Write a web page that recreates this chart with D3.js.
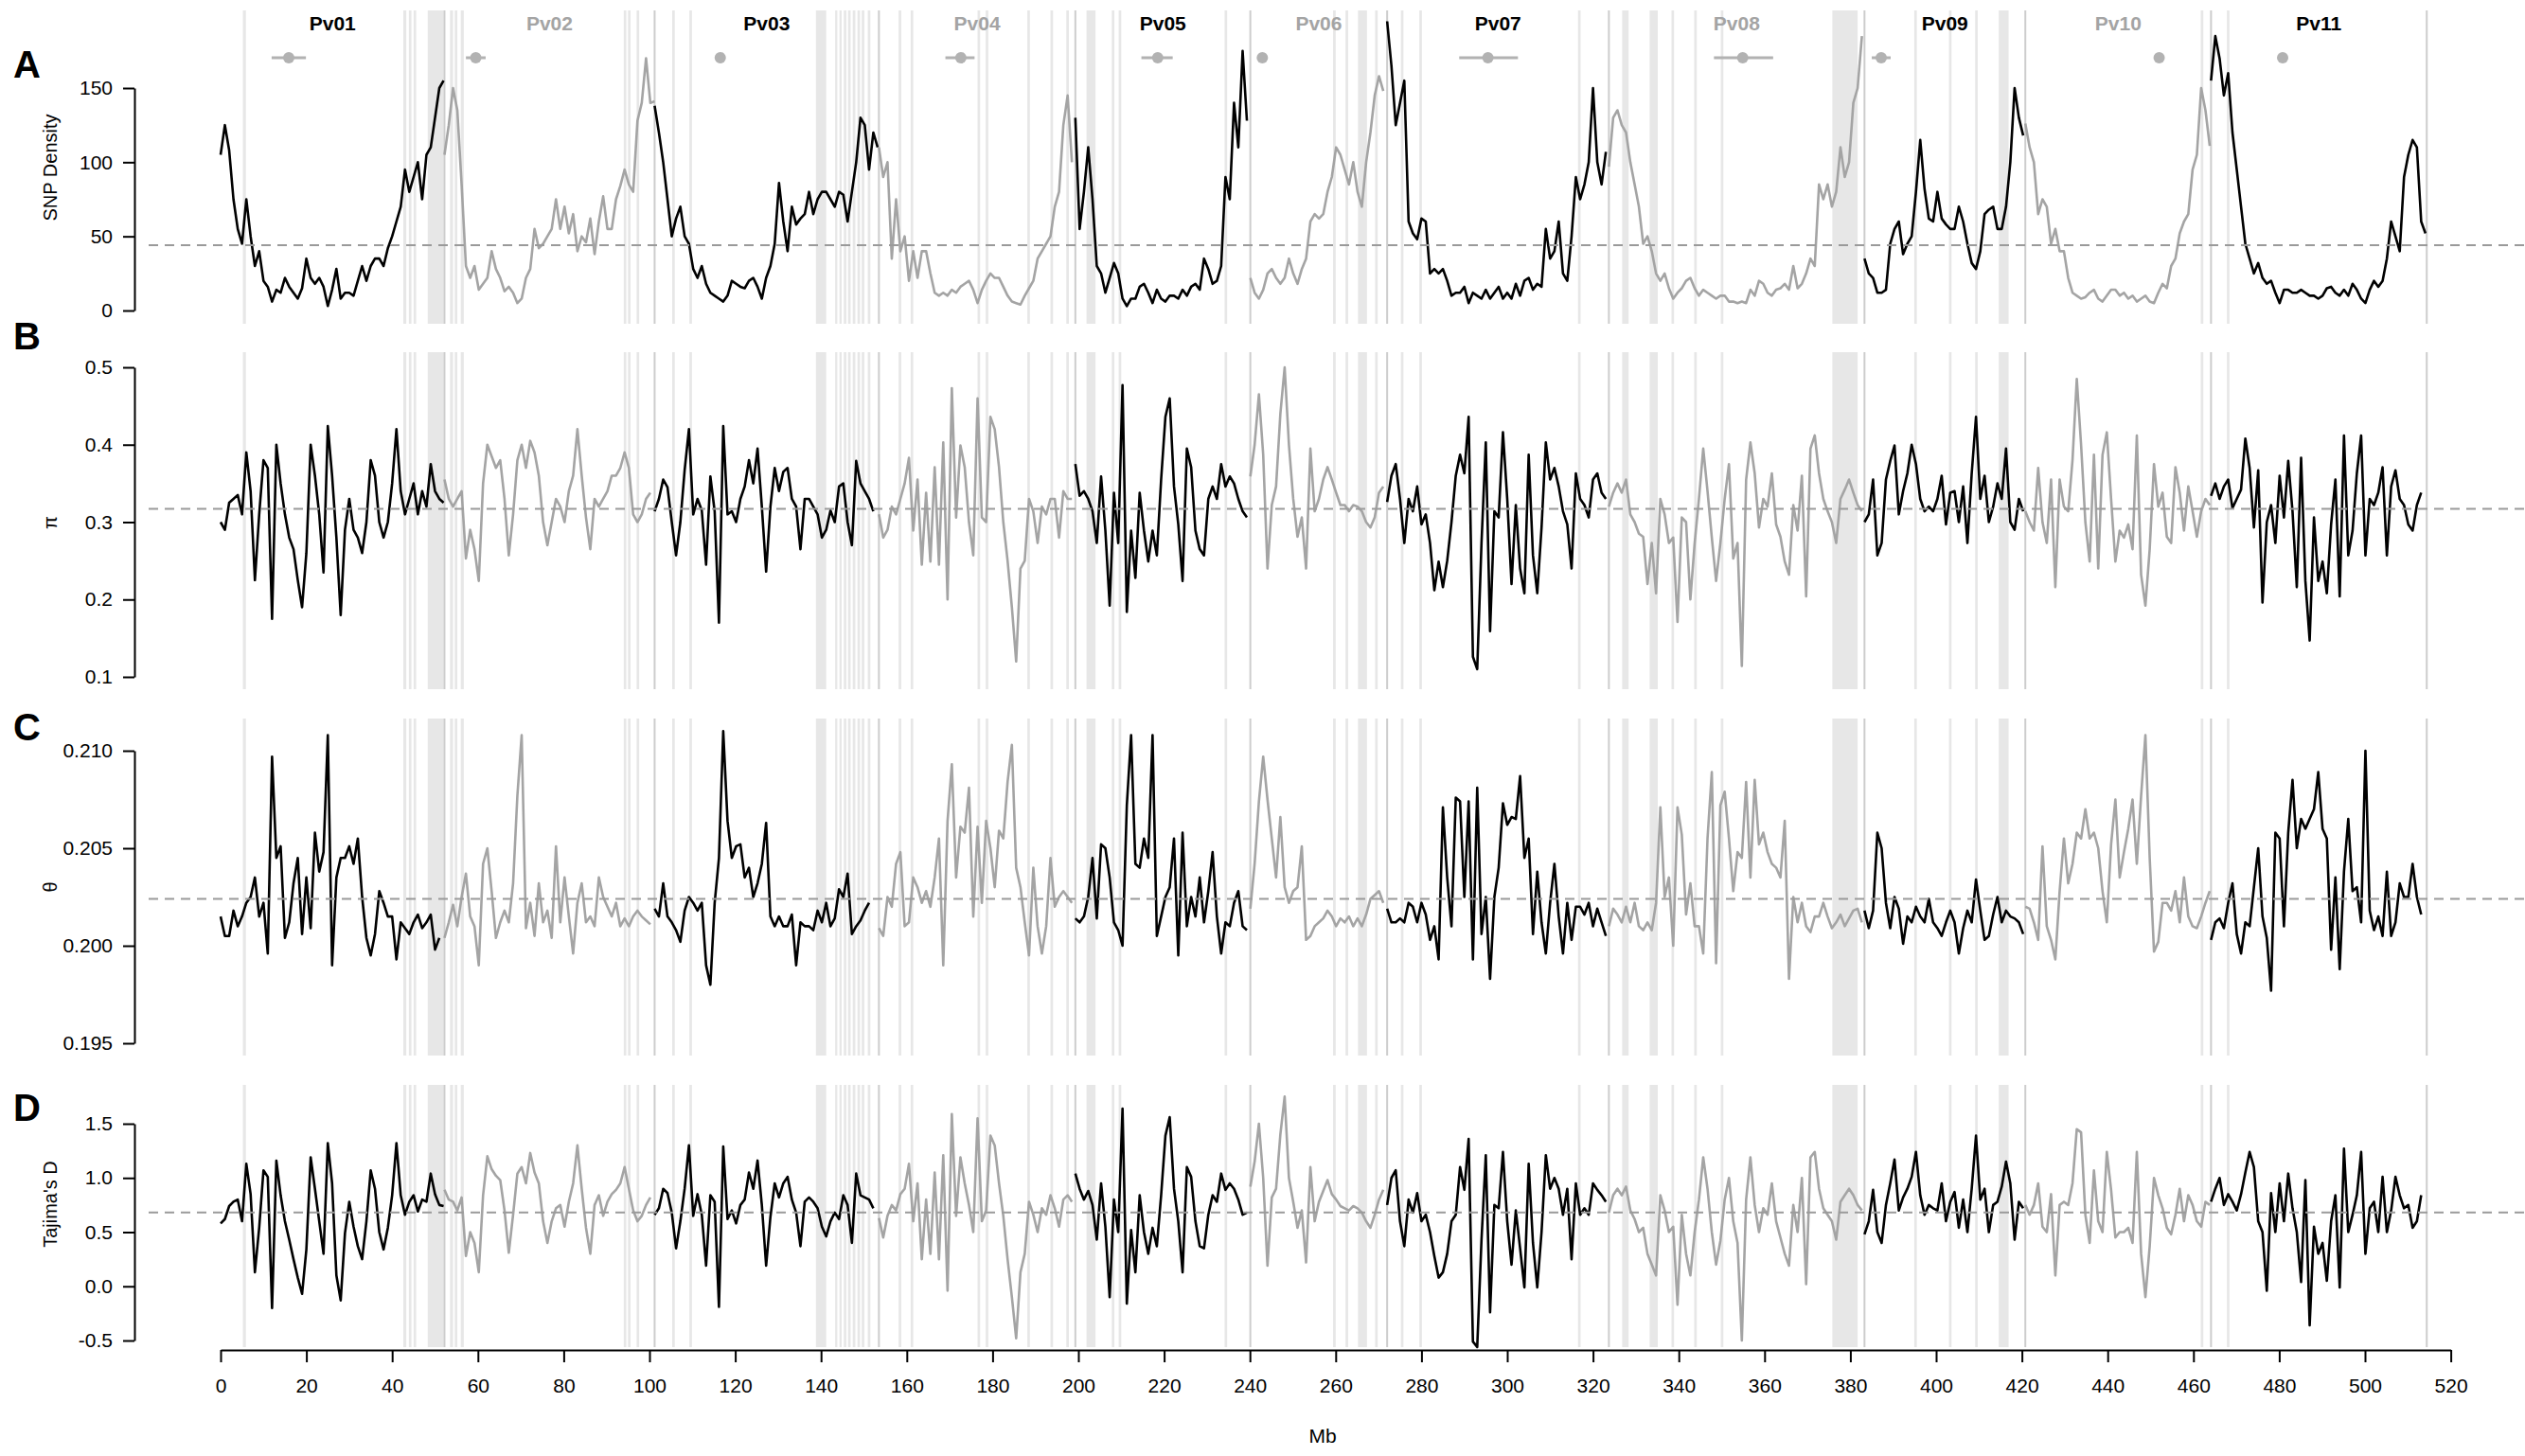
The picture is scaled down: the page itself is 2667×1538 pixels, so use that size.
<!DOCTYPE html>
<html>
<head>
<meta charset="utf-8">
<script src="https://cdn.jsdelivr.net/npm/d3@7/dist/d3.min.js"></script>
<style>
  body { margin: 0; background: #fff; }
  text { font-family: "Liberation Sans", Arial, Helvetica, sans-serif; }
</style>
</head>
<body>
<svg id="vis"></svg>
<script>
// chromosomes (Mb)
const chromNames = ["Pv01", "Pv02", "Pv03", "Pv04", "Pv05", "Pv06", "Pv07", "Pv08", "Pv09", "Pv10", "Pv11"];
const chromLengths = [52.2, 49.0, 52.3, 45.8, 40.8, 31.9, 51.7, 59.6, 37.5, 43.3, 50.3];

// centromere position and interval (cumulative Mb)
const centroPos = [15.9, 59.5, 116.5, 172.6, 218.5, 242.9, 295.5, 354.9, 387.2, 452.0, 480.8];
const centroLo = [11.9, 57.2, null, 169.0, 214.7, null, 288.8, 348.2, 385.0, null, null];
const centroHi = [19.9, 61.8, null, 175.8, 222.0, null, 302.5, 362.0, 389.4, null, null];

// shaded regions (cumulative Mb)
const bands = [
  [5.2, 5.9], [42.6, 43.3], [43.9, 44.5], [45.0, 45.6], [48.3, 52.0], [53.5, 54.2], [54.6, 55.2], [56.0, 56.7],
  [94.0, 94.6], [95.0, 95.6], [97.0, 97.6], [105.3, 105.9], [109.3, 109.9],
  [138.8, 141.2], [143.3, 143.8], [144.3, 144.8], [145.3, 145.9], [146.3, 146.9], [147.4, 148.0], [148.5, 149.1],
  [149.5, 150.1], [150.9, 151.5],
  [158.1, 158.7], [160.9, 161.5], [176.5, 177.1], [178.4, 179.0], [188.1, 188.7], [193.5, 194.1], [197.2, 197.8],
  [201.9, 204.0], [207.8, 208.4], [209.4, 210.0], [234.1, 234.7],
  [259.4, 260.0], [262.3, 262.9], [265.2, 267.3], [269.2, 269.8], [275.2, 275.8], [279.5, 280.1], [316.5, 317.1],
  [326.8, 328.3], [333.2, 335.1], [338.3, 338.9], [343.6, 344.2], [349.8, 350.4], [375.8, 381.7],
  [394.9, 395.5], [403.0, 403.6], [409.1, 409.7], [414.6, 416.9], [461.7, 462.3], [467.8, 468.4]
];

// A: SNP density, one value per Mb from each chromosome start
const snpDensity = [
  [105,125,108,75,55,45,75,50,30,40,20,16,6,14,12,22,16,12,8,15,35,22,18,22,16,3,14,28,8,12,12,10,20,30,20,30,35,35,30,42,50,60,70,95,80,90,100,75,105,110,130,150,155],
  [105,125,150,135,85,30,22,30,14,18,22,40,28,22,13,16,12,5,8,22,28,55,42,45,50,55,75,55,70,52,65,40,50,46,62,38,60,77,55,55,75,84,95,85,80,128,140,170,140,141],
  [138,120,100,75,50,62,70,50,45,28,22,30,18,12,10,8,6,10,20,18,16,15,20,22,16,8,22,30,45,86,60,40,70,58,62,65,80,65,75,80,80,75,70,80,78,60,80,100,130,125,95,120,110],
  [110,90,100,35,75,40,50,20,40,22,40,40,25,12,10,12,10,14,12,16,18,20,14,5,14,20,25,22,22,16,10,6,5,4,10,15,20,35,40,45,50,70,80,125,145,100],
  [130,55,80,110,75,30,25,12,22,32,25,8,3,8,8,16,18,12,5,14,8,6,10,10,8,14,10,16,18,14,35,28,18,20,30,90,75,140,110,175,128],
  [22,12,8,14,25,28,22,18,22,35,25,18,28,35,60,65,62,65,80,90,110,105,95,85,100,80,70,100,120,145,158,148],
  [195,165,125,140,155,60,52,48,62,60,25,28,25,28,20,10,12,12,16,5,12,10,8,14,8,12,16,8,12,8,18,10,20,22,14,18,16,55,35,40,60,25,20,50,90,75,85,100,150,100,85,107],
  [97,130,135,125,120,100,85,70,45,50,40,25,20,25,15,8,12,15,20,22,15,10,14,12,10,8,10,10,6,6,5,6,5,14,10,20,18,12,10,14,15,18,14,30,15,18,25,35,30,85,75,85,70,80,110,90,100,140,150,185],
  [35,25,22,12,12,14,45,55,60,38,45,50,80,115,82,62,60,80,62,58,55,55,70,60,45,32,28,40,65,68,70,55,55,70,100,150,130,118],
  [126,110,100,65,75,70,45,55,40,40,22,12,10,8,9,12,14,8,6,10,14,14,10,12,8,10,6,8,10,6,5,12,18,15,30,35,52,60,65,95,105,150,135,111],
  [155,185,170,145,160,120,95,70,45,35,25,32,22,18,20,12,5,14,14,12,12,14,12,10,10,8,10,15,16,12,10,14,10,18,14,8,5,14,20,16,20,35,60,50,40,90,105,115,110,60,52]
];

// B: nucleotide diversity
const piValues = [
  [0.30,0.29,0.325,0.33,0.335,0.31,0.39,0.34,0.225,0.31,0.38,0.37,0.175,0.40,0.35,0.31,0.28,0.265,0.225,0.19,0.26,0.40,0.36,0.31,0.235,0.424,0.36,0.28,0.18,0.29,0.33,0.29,0.28,0.26,0.30,0.38,0.36,0.30,0.28,0.30,0.35,0.42,0.34,0.31,0.33,0.35,0.31,0.34,0.32,0.375,0.34,0.33,0.325],
  [0.355,0.33,0.32,0.33,0.34,0.253,0.29,0.265,0.224,0.35,0.40,0.385,0.37,0.38,0.33,0.257,0.31,0.38,0.40,0.37,0.405,0.39,0.36,0.30,0.27,0.30,0.33,0.32,0.30,0.34,0.36,0.42,0.36,0.306,0.265,0.33,0.32,0.33,0.34,0.36,0.36,0.37,0.39,0.37,0.31,0.30,0.31,0.33,0.338],
  [0.314,0.33,0.355,0.345,0.30,0.257,0.30,0.367,0.42,0.31,0.33,0.315,0.245,0.359,0.314,0.17,0.424,0.31,0.314,0.30,0.33,0.346,0.38,0.35,0.395,0.32,0.236,0.32,0.37,0.34,0.365,0.37,0.33,0.32,0.265,0.33,0.33,0.32,0.31,0.28,0.29,0.315,0.30,0.346,0.35,0.30,0.27,0.379,0.35,0.34,0.33,0.314],
  [0.31,0.28,0.29,0.32,0.31,0.33,0.35,0.383,0.289,0.355,0.245,0.338,0.249,0.371,0.245,0.403,0.2,0.473,0.306,0.399,0.371,0.30,0.257,0.46,0.306,0.30,0.436,0.42,0.371,0.30,0.25,0.19,0.12,0.24,0.25,0.33,0.314,0.273,0.32,0.31,0.33,0.33,0.28,0.34,0.33,0.33],
  [0.375,0.334,0.34,0.33,0.314,0.273,0.359,0.289,0.192,0.338,0.273,0.477,0.184,0.289,0.228,0.338,0.289,0.249,0.289,0.257,0.355,0.436,0.46,0.346,0.297,0.224,0.395,0.371,0.289,0.265,0.257,0.33,0.346,0.33,0.375,0.346,0.359,0.35,0.33,0.314,0.306],
  [0.359,0.40,0.465,0.387,0.24,0.322,0.346,0.44,0.50,0.40,0.33,0.281,0.306,0.24,0.395,0.314,0.33,0.355,0.371,0.355,0.338,0.322,0.322,0.314,0.322,0.32,0.314,0.30,0.293,0.306,0.338,0.346],
  [0.326,0.36,0.375,0.33,0.273,0.33,0.314,0.346,0.297,0.31,0.273,0.212,0.249,0.216,0.25,0.30,0.36,0.387,0.363,0.436,0.126,0.11,0.273,0.403,0.159,0.314,0.306,0.416,0.33,0.22,0.322,0.24,0.208,0.387,0.257,0.208,0.293,0.403,0.355,0.37,0.346,0.314,0.297,0.24,0.363,0.33,0.322,0.306,0.355,0.363,0.338,0.33],
  [0.32,0.338,0.35,0.338,0.355,0.31,0.30,0.285,0.281,0.22,0.273,0.208,0.33,0.31,0.273,0.28,0.171,0.306,0.30,0.2,0.273,0.33,0.395,0.34,0.28,0.224,0.273,0.33,0.375,0.253,0.273,0.114,0.355,0.403,0.363,0.293,0.33,0.32,0.363,0.297,0.281,0.249,0.232,0.322,0.289,0.36,0.204,0.395,0.412,0.363,0.33,0.314,0.30,0.273,0.33,0.342,0.355,0.338,0.322,0.314],
  [0.30,0.31,0.355,0.257,0.273,0.355,0.379,0.399,0.31,0.34,0.363,0.40,0.375,0.33,0.314,0.32,0.314,0.33,0.36,0.297,0.338,0.34,0.30,0.346,0.273,0.363,0.436,0.33,0.36,0.30,0.32,0.35,0.33,0.395,0.30,0.29,0.33,0.314],
  [0.314,0.30,0.289,0.37,0.30,0.273,0.355,0.216,0.355,0.32,0.314,0.38,0.485,0.40,0.30,0.249,0.387,0.24,0.387,0.416,0.33,0.249,0.289,0.28,0.297,0.265,0.412,0.232,0.192,0.265,0.375,0.32,0.338,0.281,0.273,0.371,0.338,0.289,0.346,0.314,0.281,0.314,0.33,0.322],
  [0.334,0.35,0.33,0.346,0.355,0.318,0.33,0.342,0.408,0.37,0.293,0.367,0.196,0.30,0.322,0.273,0.36,0.306,0.379,0.314,0.216,0.383,0.224,0.147,0.306,0.224,0.249,0.208,0.297,0.355,0.204,0.412,0.257,0.289,0.363,0.412,0.257,0.33,0.322,0.338,0.371,0.257,0.346,0.367,0.33,0.322,0.297,0.289,0.322,0.338]
];

// C: Watterson's theta
const thetaValues = [
  [0.2015,0.2005,0.2005,0.2018,0.2010,0.2015,0.2022,0.2025,0.2035,0.2015,0.2022,0.1996,0.2097,0.2045,0.2051,0.2004,0.2012,0.2032,0.2045,0.2006,0.2035,0.2009,0.2058,0.2038,0.2048,0.2108,0.1990,0.2035,0.2045,0.2045,0.2051,0.2042,0.2055,0.2025,0.2004,0.1995,0.2006,0.2028,0.2022,0.2015,0.2015,0.1993,0.2012,0.2009,0.2006,0.2012,0.2016,0.2009,0.2012,0.2016,0.1998,0.2004],
  [0.2004,0.2012,0.2021,0.2010,0.2025,0.2037,0.2015,0.2010,0.1990,0.2042,0.2050,0.2028,0.2004,0.2012,0.2018,0.2012,0.2032,0.2077,0.2108,0.2009,0.2022,0.2005,0.2032,0.2012,0.2018,0.2004,0.2051,0.2012,0.2035,0.2015,0.1996,0.2022,0.2032,0.2012,0.2015,0.2010,0.2035,0.2025,0.2020,0.2015,0.2022,0.2010,0.2014,0.2010,0.2015,0.2018,0.2015,0.2013,0.2011],
  [0.2019,0.2015,0.2032,0.2015,0.2012,0.2008,0.2002,0.2018,0.2025,0.2022,0.2018,0.2022,0.1990,0.1980,0.2022,0.2045,0.2110,0.2064,0.2045,0.2051,0.2052,0.2035,0.2040,0.2025,0.2032,0.2042,0.2063,0.2015,0.2010,0.2015,0.2010,0.2010,0.2016,0.1990,0.2012,0.2010,0.2010,0.2008,0.2018,0.2012,0.2022,0.2010,0.2014,0.2029,0.2025,0.2037,0.2006,0.2010,0.2013,0.2018,0.2022],
  [0.2009,0.2005,0.2025,0.2020,0.2042,0.2048,0.2010,0.2012,0.2035,0.2030,0.2022,0.2028,0.2020,0.2035,0.2055,0.1990,0.2064,0.2093,0.2035,0.2061,0.2058,0.2081,0.2015,0.2061,0.2022,0.2064,0.2050,0.2030,0.2059,0.2055,0.2084,0.2103,0.2040,0.2030,0.2012,0.1995,0.2040,0.2010,0.1996,0.2010,0.2045,0.2020,0.2025,0.2028,0.2025,0.2022],
  [0.2014,0.2012,0.2015,0.2025,0.2045,0.2014,0.2052,0.2050,0.2035,0.2012,0.2008,0.2000,0.2072,0.2108,0.2042,0.2040,0.2055,0.2045,0.2108,0.2005,0.2015,0.2025,0.2030,0.2055,0.1995,0.2058,0.2010,0.2025,0.2015,0.2035,0.2012,0.2028,0.2048,0.2015,0.1996,0.2012,0.2010,0.2022,0.2028,0.2010,0.2008],
  [0.2019,0.2042,0.2074,0.2097,0.2075,0.2055,0.2035,0.2066,0.2030,0.2022,0.2028,0.2030,0.2051,0.2003,0.2005,0.2010,0.2012,0.2014,0.2018,0.2015,0.2010,0.2014,0.2012,0.2015,0.2010,0.2014,0.2010,0.2016,0.2024,0.2026,0.2028,0.2022],
  [0.2019,0.2012,0.2012,0.2014,0.2012,0.2022,0.2020,0.2012,0.2022,0.2016,0.2003,0.2010,0.1993,0.2071,0.2035,0.2010,0.2076,0.2074,0.2025,0.2074,0.1993,0.2081,0.2006,0.2025,0.1983,0.2025,0.2040,0.2073,0.2062,0.2066,0.2065,0.2087,0.2045,0.2055,0.2006,0.2038,0.2012,0.1996,0.2022,0.2042,0.2015,0.1996,0.2022,0.2003,0.2020,0.2020,0.2016,0.2022,0.2010,0.2019,0.2012,0.2005],
  [0.2010,0.2019,0.2016,0.2012,0.2020,0.2012,0.2022,0.2010,0.2008,0.2012,0.2008,0.2022,0.2071,0.2025,0.2035,0.2000,0.2071,0.2057,0.2016,0.2032,0.2010,0.2010,0.1996,0.2055,0.2089,0.1991,0.2072,0.2079,0.2055,0.2028,0.2048,0.2045,0.2084,0.2035,0.2085,0.2052,0.2058,0.2048,0.2042,0.2040,0.2035,0.2064,0.1983,0.2025,0.2012,0.2022,0.2010,0.2007,0.2015,0.2015,0.2022,0.2015,0.2009,0.2012,0.2016,0.2010,0.2014,0.2018,0.2019,0.2012],
  [0.2018,0.2009,0.2018,0.2058,0.2050,0.2022,0.2009,0.2025,0.2019,0.2001,0.2015,0.2012,0.2020,0.2015,0.2012,0.2024,0.2012,0.2009,0.2005,0.2012,0.2018,0.2012,0.1996,0.2009,0.2018,0.2012,0.2034,0.2018,0.2003,0.2005,0.2016,0.2025,0.2012,0.2018,0.2015,0.2014,0.2012,0.2006],
  [0.2020,0.2019,0.2012,0.2003,0.2051,0.2010,0.2003,0.1993,0.2028,0.2055,0.2032,0.2042,0.2058,0.2055,0.2070,0.2055,0.2058,0.2050,0.2028,0.2012,0.2052,0.2075,0.2035,0.2048,0.2060,0.2075,0.2042,0.2077,0.2108,0.2045,0.1997,0.2002,0.2022,0.2022,0.2018,0.2028,0.2012,0.2035,0.2015,0.2010,0.2009,0.2015,0.2022,0.2028],
  [0.2003,0.2012,0.2014,0.2009,0.2022,0.2032,0.2006,0.1996,0.2012,0.2010,0.2030,0.2050,0.2015,0.2004,0.1977,0.2058,0.2055,0.2010,0.2058,0.2085,0.2050,0.2065,0.2060,0.2065,0.2070,0.2089,0.2060,0.2055,0.1998,0.2035,0.1988,0.2038,0.2065,0.2028,0.2030,0.2012,0.2100,0.2018,0.2008,0.2015,0.2005,0.2038,0.2005,0.2012,0.2032,0.2025,0.2025,0.2042,0.2025,0.2016]
];

// D: Tajima's D
const tajimaD = [
  [0.58,0.62,0.74,0.78,0.80,0.60,1.13,0.85,0.13,0.54,1.07,1.01,-0.20,1.16,0.84,0.60,0.43,0.25,0.08,-0.07,0.34,1.19,0.90,0.60,0.30,1.32,0.95,0.10,-0.13,0.49,0.78,0.55,0.37,0.25,0.60,1.07,0.90,0.50,0.34,0.54,0.84,1.32,0.84,0.66,0.78,0.84,0.69,0.80,0.78,1.04,0.85,0.75,0.74],
  [0.89,0.80,0.78,0.70,0.82,0.28,0.50,0.40,0.13,0.84,1.20,1.08,1.02,0.98,0.70,0.31,0.66,1.04,1.10,0.95,1.23,1.05,0.95,0.60,0.40,0.60,0.72,0.75,0.55,0.78,0.95,1.30,0.90,0.54,0.30,0.75,0.84,0.65,0.78,0.85,0.89,0.95,1.10,0.90,0.70,0.60,0.65,0.75,0.82],
  [0.66,0.72,0.90,0.86,0.68,0.35,0.60,0.90,1.30,0.65,0.85,0.66,0.19,0.84,0.78,-0.19,1.29,0.62,0.70,0.58,0.75,0.80,1.05,0.90,1.16,0.75,0.19,0.64,0.95,0.82,0.95,1.01,0.80,0.68,0.37,0.78,0.82,0.78,0.72,0.55,0.46,0.60,0.68,0.62,0.84,0.75,0.40,1.04,0.84,0.82,0.80,0.72],
  [0.63,0.45,0.65,0.75,0.70,0.85,0.90,1.13,0.60,0.95,0.25,0.80,0.30,1.05,0.25,1.21,-0.04,1.59,0.65,1.19,0.95,0.75,0.50,1.55,0.60,0.70,1.39,1.30,0.95,0.65,0.25,-0.10,-0.48,0.13,0.30,0.78,0.66,0.50,0.72,0.66,0.84,0.72,0.55,0.80,0.84,0.78],
  [1.04,0.90,0.80,0.88,0.75,0.43,0.95,0.55,-0.10,0.80,0.50,1.64,-0.16,0.52,0.13,0.84,0.50,0.30,0.54,0.37,0.84,1.39,1.56,0.90,0.60,0.13,1.10,1.01,0.60,0.37,0.35,0.66,0.84,0.78,1.04,0.89,0.95,0.90,0.80,0.66,0.68],
  [0.92,1.15,1.50,1.00,0.19,0.82,0.90,1.40,1.75,1.00,0.78,0.54,0.70,0.22,1.10,0.60,0.78,0.88,0.98,0.85,0.80,0.74,0.72,0.70,0.74,0.72,0.68,0.60,0.54,0.66,0.80,0.89],
  [0.75,1.00,1.07,0.60,0.37,0.80,0.68,0.86,0.60,0.66,0.50,0.28,0.08,0.13,0.30,0.60,0.66,1.10,0.89,1.36,-0.51,-0.56,0.43,1.21,-0.24,0.75,0.72,1.24,0.60,0.20,0.70,0.35,-0.01,1.13,0.40,-0.01,0.50,1.21,0.90,1.00,0.90,0.66,0.90,0.25,0.95,0.66,0.72,0.66,0.95,0.89,0.84,0.78],
  [0.68,0.84,0.90,0.84,0.92,0.70,0.62,0.50,0.54,0.30,0.20,0.10,0.84,0.70,0.50,0.55,-0.17,0.66,0.30,0.10,0.50,0.80,1.19,0.90,0.50,0.20,0.42,0.80,1.00,0.60,0.40,-0.50,0.80,1.19,0.75,0.50,0.72,0.66,0.95,0.60,0.45,0.30,0.19,0.75,0.50,1.00,0.02,1.19,1.24,0.90,0.72,0.66,0.60,0.43,0.78,0.84,0.90,0.84,0.75,0.70],
  [0.48,0.60,0.89,0.50,0.40,0.75,0.95,1.17,0.70,0.82,0.90,1.01,1.24,0.84,0.66,0.75,0.72,0.70,0.95,0.60,0.78,0.87,0.54,0.80,0.50,0.90,1.39,0.80,0.90,0.50,0.75,0.78,0.92,1.15,0.95,0.43,0.78,0.72],
  [0.75,0.66,0.75,0.95,0.55,0.50,0.85,0.10,0.75,0.78,0.75,0.95,1.45,1.42,0.66,0.40,1.07,0.60,0.50,1.24,0.89,0.45,0.50,0.50,0.54,0.40,1.24,0.30,-0.10,0.37,1.00,0.84,0.72,0.54,0.48,0.66,0.90,0.60,0.84,0.75,0.60,0.55,0.78,0.75],
  [0.78,0.90,1.00,0.75,0.85,0.78,0.70,0.85,1.05,1.24,1.10,0.60,0.50,-0.04,0.86,0.50,0.95,0.60,1.04,0.72,0.50,0.04,0.98,-0.36,0.55,0.30,0.40,0.05,0.60,0.84,-0.01,1.27,0.50,0.66,0.84,1.24,0.30,0.72,0.78,0.50,1.01,0.50,0.70,1.01,0.84,0.72,0.75,0.54,0.60,0.84]
];

// genome-wide means (dashed lines) and axis ticks
const snpMean = 44, piMean = 0.317, thetaMean = 0.2024, tajimaMean = 0.682;
const snpTicks = [0, 50, 100, 150];
const snpTickLabels = ["0", "50", "100", "150"];
const piTicks = [0.1, 0.2, 0.3, 0.4, 0.5];
const piTickLabels = ["0.1", "0.2", "0.3", "0.4", "0.5"];
const thetaTicks = [0.195, 0.200, 0.205, 0.210];
const thetaTickLabels = ["0.195", "0.200", "0.205", "0.210"];
const tajimaTicks = [-0.5, 0, 0.5, 1.0, 1.5];
const tajimaTickLabels = ["-0.5", "0.0", "0.5", "1.0", "1.5"];
const mbTicks = d3.range(0, 521, 20);

const W = 2667, H = 1538;
const BLACK = "#000000";
const GREY = "#a4a4a4";
const BAND_COLOR = "#e7e7e7";
const EDGE_COLOR = "#cdcdcd";

const svg = d3.select("#vis").attr("width", W).attr("height", H);
const x = d3.scaleLinear().domain([0, 520]).range([233, 2588.6]);

const chromEnds = d3.cumsum(chromLengths);
const chromStarts = chromEnds.map((e, i) => e - chromLengths[i]);
const chromColor = i => (i % 2 === 0 ? BLACK : GREY);

const panels = [
  {letter: "A", title: "SNP Density", values: snpDensity, mean: snpMean, ticks: snpTicks, labels: snpTickLabels,
   domain: [0, 150], range: [328, 93], band: [11, 342], letterY: 82, titleY: 177},
  {letter: "B", title: "\u03c0", values: piValues, mean: piMean, ticks: piTicks, labels: piTickLabels,
   domain: [0.1, 0.5], range: [715, 388], band: [372, 728], letterY: 369, titleY: 552},
  {letter: "C", title: "\u03b8", values: thetaValues, mean: thetaMean, ticks: thetaTicks, labels: thetaTickLabels,
   domain: [0.195, 0.210], range: [1102, 793], band: [759, 1115], letterY: 782, titleY: 937},
  {letter: "D", title: "Tajima's D", values: tajimaD, mean: tajimaMean, ticks: tajimaTicks, labels: tajimaTickLabels,
   domain: [-0.5, 1.5], range: [1416, 1187], band: [1146, 1423], letterY: 1184, titleY: 1272}
];

function drawPanel(p) {
  const y = d3.scaleLinear().domain(p.domain).range(p.range);
  const g = svg.append("g").attr("class", "panel" + p.letter);

  // shaded regions
  g.append("g").selectAll("rect").data(bands).join("rect")
    .attr("x", d => x(d[0]))
    .attr("width", d => x(d[1]) - x(d[0]))
    .attr("y", p.band[0])
    .attr("height", p.band[1] - p.band[0])
    .attr("fill", BAND_COLOR);

  // chromosome boundaries
  g.append("g").selectAll("line").data(chromEnds).join("line")
    .attr("x1", d => x(d)).attr("x2", d => x(d))
    .attr("y1", p.band[0]).attr("y2", p.band[1])
    .attr("stroke", EDGE_COLOR)
    .attr("stroke-width", 2);

  // one line per chromosome
  const line = d3.line().x(d => x(d[0])).y(d => y(d[1]));
  const series = p.values.map((vals, i) =>
    vals.map((v, j) => [Math.min(chromStarts[i] + j, chromEnds[i]), v]));
  g.append("g").selectAll("path").data(series).join("path")
    .attr("d", line)
    .attr("fill", "none")
    .attr("stroke", (d, i) => chromColor(i))
    .attr("stroke-width", 2.6)
    .attr("stroke-linejoin", "round");

  // mean
  g.append("line")
    .attr("x1", 157).attr("x2", W)
    .attr("y1", y(p.mean)).attr("y2", y(p.mean))
    .attr("stroke", "#9a9a9a")
    .attr("stroke-width", 2)
    .attr("stroke-dasharray", "10,7");

  // y axis
  const axis = g.append("g")
    .attr("transform", "translate(142,0)")
    .call(d3.axisLeft(y).tickValues(p.ticks).tickFormat((d, i) => p.labels[i])
      .tickSize(12).tickSizeOuter(0).tickPadding(11));
  axis.select(".domain").attr("stroke-width", 2);
  axis.selectAll(".tick line").attr("stroke-width", 2);
  axis.selectAll("text").attr("font-size", 21).attr("fill", BLACK)
    .attr("font-family", "'Liberation Sans', Arial, sans-serif");

  g.append("text")
    .attr("transform", `translate(60,${p.titleY}) rotate(-90)`)
    .attr("text-anchor", "middle")
    .attr("font-size", 20)
    .text(p.title);

  g.append("text")
    .attr("x", 14).attr("y", p.letterY)
    .attr("font-size", 40)
    .attr("font-weight", "bold")
    .text(p.letter);
}

function drawHeader() {
  svg.append("g").selectAll("text").data(chromNames).join("text")
    .attr("x", (d, i) => x(chromStarts[i] + chromLengths[i] / 2))
    .attr("y", 32)
    .attr("text-anchor", "middle")
    .attr("font-size", 21)
    .attr("font-weight", "bold")
    .attr("fill", (d, i) => chromColor(i))
    .text(d => d);

  const cg = svg.append("g");
  cg.selectAll("line").data(centroPos.map((c, i) => i).filter(i => centroLo[i] !== null)).join("line")
    .attr("x1", i => x(centroLo[i])).attr("x2", i => x(centroHi[i]))
    .attr("y1", 61).attr("y2", 61)
    .attr("stroke", "#b2b2b2")
    .attr("stroke-width", 3);
  cg.selectAll("circle").data(centroPos).join("circle")
    .attr("cx", d => x(d)).attr("cy", 61).attr("r", 6)
    .attr("fill", "#b2b2b2");
}

function drawXAxis() {
  const axis = svg.append("g")
    .attr("transform", "translate(0,1426)")
    .call(d3.axisBottom(x).tickValues(mbTicks).tickSize(13).tickSizeOuter(0).tickPadding(17));
  axis.select(".domain").attr("stroke-width", 2);
  axis.selectAll(".tick line").attr("stroke-width", 2);
  axis.selectAll("text").attr("font-size", 21).attr("fill", BLACK)
    .attr("font-family", "'Liberation Sans', Arial, sans-serif");

  svg.append("text")
    .attr("x", x(257)).attr("y", 1524)
    .attr("text-anchor", "middle")
    .attr("font-size", 21)
    .text("Mb");
}

function main() {
  svg.append("rect").attr("width", W).attr("height", H).attr("fill", "#fff");
  panels.forEach(drawPanel);
  drawHeader();
  drawXAxis();
}

main();
</script>
</body>
</html>
